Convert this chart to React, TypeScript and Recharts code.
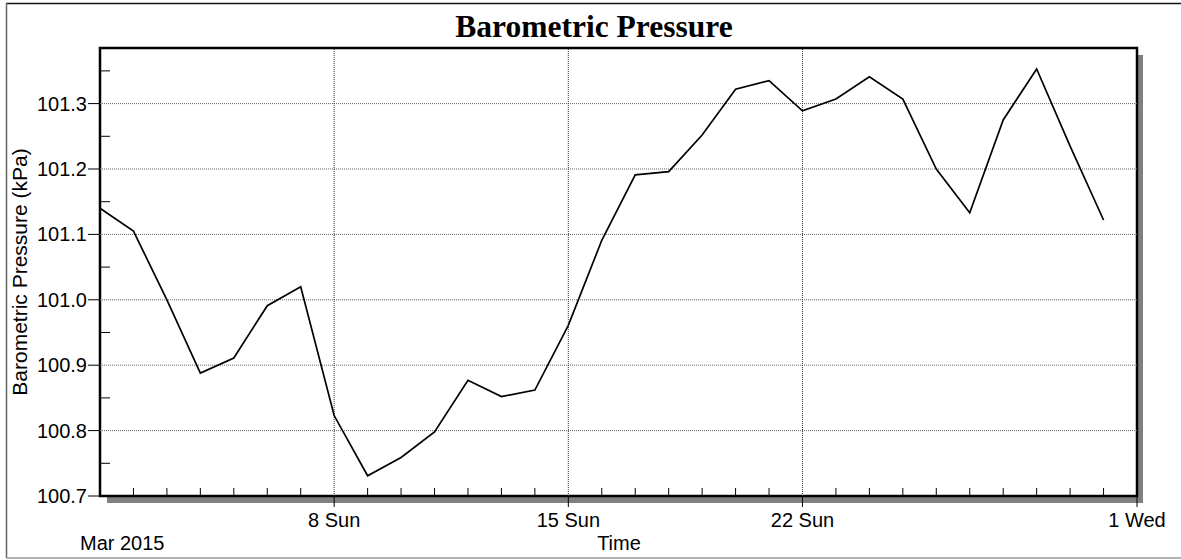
import { Line, LineChart, ReferenceLine, XAxis, YAxis } from "recharts";

// days since 1 Mar 2015
const dayIndex = [0, 1, 2, 3, 4, 5, 6, 7, 8, 9, 10, 11, 12, 13, 14, 15, 16, 17, 18, 19, 20, 21, 22, 23, 24, 25, 26, 27, 28, 29, 30];
const pressure = [
  101.14, 101.105, 101.0, 100.888, 100.911, 100.991, 101.02, 100.823, 100.731, 100.759, 100.798,
  100.877, 100.852, 100.862, 100.961, 101.091, 101.191, 101.196, 101.252, 101.322, 101.335,
  101.289, 101.307, 101.341, 101.307, 101.2, 101.133, 101.275, 101.353, 101.235, 101.122,
];
const weekDays = [7, 14, 21, 31];
const weekLabels = ["8 Sun", "15 Sun", "22 Sun", "1 Wed"];
const xTicks = [...dayIndex.slice(1), 31];
const yTicks = [100.7, 100.75, 100.8, 100.85, 100.9, 100.95, 101.0, 101.05, 101.1, 101.15, 101.2, 101.25, 101.3, 101.35];
const yGrid = [100.8, 100.9, 101.0, 101.1, 101.2, 101.3];
const xGrid = [7, 14, 21];

const data = dayIndex.map((d, i) => ({ day: d, kpa: pressure[i] }));

const SANS = "'Liberation Sans', Arial, sans-serif";
const SERIF = "'Liberation Serif', 'Times New Roman', serif";

function XTick(props: any) {
  const { x, y, payload } = props;
  const i = weekDays.indexOf(payload.value);
  if (i < 0) return <line x1={x} x2={x} y1={y} y2={y - 8} stroke="#000" strokeWidth={1} />;
  return (
    <g>
      <line x1={x} x2={x} y1={y} y2={y + 11} stroke="#000" strokeWidth={1} />
      <text x={x} y={y + 31} textAnchor="middle" fontSize={20} fontFamily={SANS} fill="#000">
        {weekLabels[i]}
      </text>
    </g>
  );
}

function YTick(props: any) {
  const { x, y, payload } = props;
  const v = payload.value as number;
  const major = Math.abs(v * 10 - Math.round(v * 10)) < 1e-6;
  if (!major) return <line x1={x} x2={x + 10} y1={y} y2={y} stroke="#000" strokeWidth={1} />;
  return (
    <g>
      <line x1={x - 12} x2={x} y1={y} y2={y} stroke="#000" strokeWidth={1} />
      <text x={x - 13} y={y + 7} textAnchor="end" fontSize={20} fontFamily={SANS} fill="#000">
        {v.toFixed(1)}
      </text>
    </g>
  );
}

export default function App() {
  return (
    <div style={{ position: "absolute", left: 0, top: 0, width: 1181, height: 560, background: "#fff" }}>
      <svg width={1181} height={560} style={{ position: "absolute", left: 0, top: 0 }}>
        <line x1={6} x2={1181} y1={3.5} y2={3.5} stroke="#111" strokeWidth={1.5} />
        <line x1={6.5} x2={6.5} y1={3} y2={558} stroke="#666" strokeWidth={1.5} />
        <line x1={6} x2={1181} y1={558} y2={558} stroke="#999" strokeWidth={1.5} />
        <text x={594} y={37} textAnchor="middle" fontSize={31.5} fontWeight="bold" fontFamily={SERIF} fill="#000">
          Barometric Pressure
        </text>
        <text
          x={27}
          y={272}
          transform="rotate(-90 27 272)"
          textAnchor="middle"
          fontSize={21}
          fontFamily={SANS}
          fill="#000"
        >
          Barometric Pressure (kPa)
        </text>
        <text x={80} y={550} fontSize={20} fontFamily={SANS} fill="#000">Mar 2015</text>
        <text x={619} y={550} textAnchor="middle" fontSize={20} fontFamily={SANS} fill="#000">Time</text>
        <rect x={107} y={496} width={1036} height={7} fill="#808080" />
        <rect x={1137} y={55} width={6} height={448} fill="#808080" />
        <rect x={100} y={48} width={1037} height={448} fill="none" stroke="#000" strokeWidth={2.5} />
      </svg>
      <div style={{ position: "absolute", left: 0, top: 0 }}>
        <LineChart width={1181} height={560} data={data} margin={{ top: 48, right: 44, bottom: 0, left: 0 }}>
          <XAxis
            dataKey="day"
            type="number"
            domain={[0, 31]}
            ticks={xTicks}
            interval={0}
            tickSize={0}
            tickMargin={0}
            axisLine={false}
            tickLine={false}
            height={64}
            tick={XTick}
          />
          <YAxis
            type="number"
            domain={[100.7, 101.385]}
            allowDataOverflow
            ticks={yTicks}
            interval={0}
            tickSize={0}
            tickMargin={0}
            axisLine={false}
            tickLine={false}
            width={100}
            tick={YTick}
          />
          {yGrid.map((v) => (
            <ReferenceLine key={"h" + v} y={v} stroke="#666" strokeDasharray="1 1" />
          ))}
          {xGrid.map((d) => (
            <ReferenceLine key={"v" + d} x={d} stroke="#333" strokeDasharray="1 1" />
          ))}
          <Line
            type="linear"
            dataKey="kpa"
            stroke="#000"
            strokeWidth={1.7}
            dot={false}
            isAnimationActive={false}
          />
        </LineChart>
      </div>
    </div>
  );
}
